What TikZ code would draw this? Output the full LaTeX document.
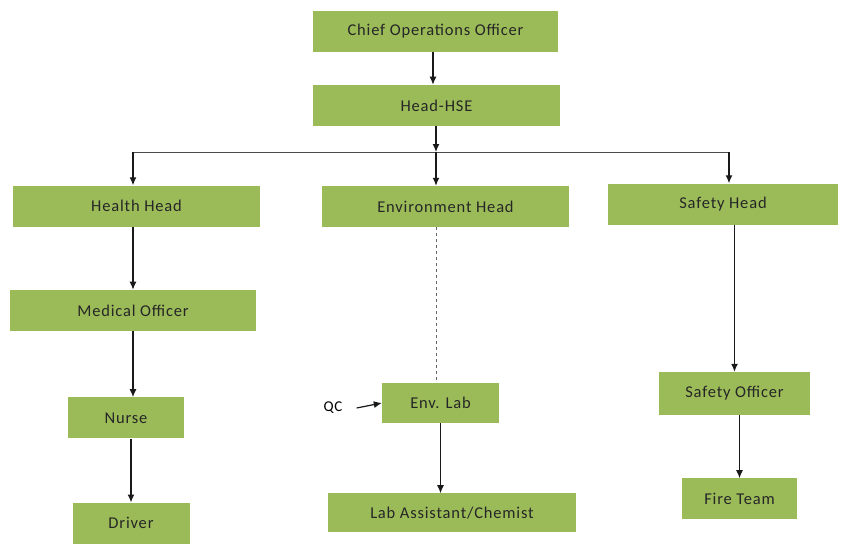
\documentclass[tikz,border=0pt]{standalone}
\usepackage{fontspec}
\setmainfont[LetterSpace=5]{Carlito}
\usepackage{xcolor}
\usetikzlibrary{positioning,arrows.meta}
\definecolor{hseGreen}{HTML}{9BBB59}
\tikzset{%
  roleBox/.style={rectangle, fill=hseGreen, draw=none, inner sep=0pt, minimum height=41pt, align=center, text=black!85, font=\fontsize{16.5}{19}\selectfont},
  link/.style={draw=black!90, line width=1.2pt, -{Latex[length=8pt,width=7pt]}},
  dottedLink/.style={draw=black!60, line width=.8pt, dashed},
}
\begin{document}
\begin{tikzpicture}[x=1pt,y=-1pt]
    \useasboundingbox (0,0) rectangle (843,544);
    %Nodes
    \node[roleBox, minimum width=245pt] (coo) at (435.5,31) {Chief Operations Officer};
    \node[roleBox, minimum width=247pt] (hse) [below=33pt of coo, xshift=1pt] {Head-HSE};
    \node[roleBox, minimum width=247pt] (health) at (136.5,206) {Health Head};
    \node[roleBox, minimum width=247pt] (env) at (445.5,206.5) {Environment Head};
    \node[roleBox, minimum width=230pt] (safety) at (723,204) {Safety Head};
    \node[roleBox, minimum width=246pt] (medical) [below=63pt of health, xshift=-3.5pt] {Medical Officer};
    \node[roleBox, minimum width=116pt] (nurse) [below=66pt of medical, xshift=-7pt] {Nurse};
    \node[roleBox, minimum width=117pt] (driver) [below=64pt of nurse, xshift=5pt] {Driver};
    \node[roleBox, minimum width=117pt, minimum height=40pt] (envlab) at (440.5,403) {Env. Lab};
    \node[roleBox, minimum width=248pt, minimum height=39pt] (labasst) [below=70pt of envlab, xshift=11.5pt] {Lab Assistant/Chemist};
    \node[roleBox, minimum width=151pt, minimum height=43pt] (safetyoff) at (734.5,393.5) {Safety Officer};
    \node[roleBox, minimum width=115pt] (fire) [below=63pt of safetyoff, xshift=5pt] {Fire Team};
    \node[font=\fontsize{15}{18}\selectfont, inner sep=1pt] (qc) at (333,408) {QC};

    %Bus
    \coordinate (busTop) at (436,152);
    \coordinate (busL) at (133,152);
    \coordinate (busR) at (729,152);
    \draw[draw=black!70, line width=.9pt] (busL) -- (busR);

    %Lines
    \draw[link] (coo.south -| 433,0) -- (hse.north -| 433,0);
    \draw[link] (hse.south -| busTop) -- (busTop);
    \draw[link] (busL) -- (busL |- health.north);
    \draw[link] (busTop) -- (busTop |- env.north);
    \draw[link] (busR) -- (busR |- safety.north);
    \draw[link] (medical.north |- health.south) -- (medical.north);
    \draw[link] (medical.south) -- (medical.south |- nurse.north);
    \draw[link] (driver.north |- nurse.south) -- (driver.north);
    \draw[dottedLink] (busTop |- env.south) -- (busTop |- envlab.north);
    \draw[link] ([xshift=13pt]qc.east) -- (envlab.west);
    \draw[link] (envlab.south) -- (envlab.south |- labasst.north);
    \draw[link] (safetyoff.north |- safety.south) -- (safetyoff.north);
    \draw[link] (fire.north |- safetyoff.south) -- (fire.north);
\end{tikzpicture}
\end{document}
